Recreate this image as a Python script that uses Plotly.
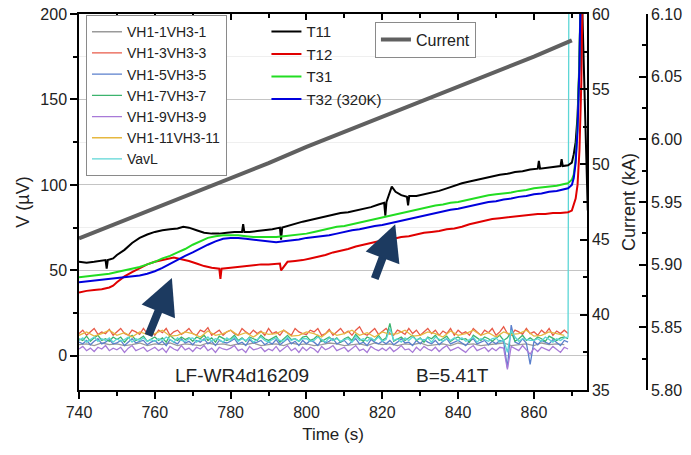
import plotly.graph_objects as go

FONT = "Liberation Sans, Arial, sans-serif"

# ---------------- data ----------------
t_fast = list(range(740, 870))          # 1 s sampling of the quench-antenna signals
t_slow = list(range(740, 870, 2))       # 2 s sampling

vh1 = [6.5, 7, 6, 7.5, 6.5, 7, 6, 6.5, 7.5, 6, 7, 6.5, 7.5, 6, 7, 6.5, 6, 7.5, 6.5, 7,
       6, 7, 6.5, 7.5, 6, 6.5, 7, 6, 7.5, 6.5, 7, 6, 6.5, 7.5, 7, 6, 6.5, 7, 6, 7.5,
       6.5, 7, 6, 7, 6.5, 7.5, 6, 6.5, 7, 6, 7.5, 6.5, 7, 6, 6.5, 7, 7.5, 6, 6.5, 7,
       6, 7.5, 6.5, 7, 6.5]
vh3 = [13, 15, 12, 14, 16, 12.5, 14, 13, 15.5, 12,
       14, 16, 13, 12, 15, 14, 12.5, 16, 13, 14.5,
       12, 15, 13.5, 16, 12, 14, 15, 12.5, 14, 16,
       13, 12, 15, 14, 16.5, 12, 13.5, 15, 12, 14,
       15, 13, 12, 16, 14, 12.5, 15, 13, 14.5, 12,
       16, 13, 14, 12, 15, 13.5, 12, 16, 14, 13,
       12.5, 15, 14, 16, 12, 13, 15.5, 12, 14, 16,
       13, 14.5, 12, 15, 17, 13, 12, 14, 16, 12.5,
       14, 16, 13, 12, 15, 14, 12.5, 16, 13, 15,
       12, 14, 16, 13, 15, 12, 14.5, 13, 16, 12,
       15, 13, 14, 12, 16, 14, 12, 15, 13.5, 16,
       12, 14, 17, 13, 12, 15, 14, 12.5, 16, 13,
       14, 12, 15, 13, 16, 12, 14.5, 13, 15, 13]
vh5 = [8, 7, 9, 6.5, 8.5, 10, 7, 8, 9.5, 7,
       7.5, 9, 6, 8, 10, 7.5, 8.5, 9, 6.5, 8,
       9, 7, 8.5, 6, 9.5, 8, 7, 10, 7.5, 8.5,
       6.5, 9, 8, 10, 7, 8.5, 6, 9, 8, 7.5,
       8.5, 10, 7, 8, 6, 9.5, 7.5, 8, 9, 6.5,
       8, 7, 9.5, 6.5, 8, 10, 7, 8.5, 6, 9,
       7, 9, 8, 6, 9.5, 7.5, 8.5, 10, 7, 8,
       9, 6.5, 8, 10, 7, 8, 6, 9.5, 8, 7,
       8.5, 7, 9, 6.5, 8, 10, 7.5, 8, 6, 9,
       7, 9.5, 8, 7, 9, 6.5, 8.5, 10, 7, 8,
       9, 7.5, 6, 8.5, 10, 7, 8, 9, 6.5, 8.5,
       7, 9, 8.5, -7, 18, 8, 7, 10, 7.5, -5,
       8.5, 6.5, 9, 8, 7, 9.5, 8, 6, 9, 8]
vh7 = [10, 9, 11.5, 8.5, 10.5, 12, 9, 10, 8.5, 11,
       9.5, 11, 8, 10.5, 12, 9, 10, 11.5, 8.5, 10,
       11, 9, 10.5, 8, 12, 10, 9, 11, 9.5, 10.5,
       8.5, 11, 10, 12, 9, 10.5, 8, 11.5, 10, 9,
       10, 12, 9, 10.5, 8.5, 11, 10, 9, 12, 10,
       9, 10.5, 11.5, 8, 10, 12, 9.5, 10, 8.5, 11,
       11.5, 9, 10, 12, 8.5, 10, 11, 9, 10.5, 8,
       10, 11, 9, 12.5, 10, 8.5, 11, 10, 9, 12,
       9, 10.5, 19, 8.5, 10, 11, 9, 10.5, 12, 9,
       10.5, 8, 11, 10, 12, 9, 10, 11.5, 8.5, 10,
       11, 9.5, 10, 8, 12, 10.5, 9, 11, 10, 8.5,
       10, 12, 9, 10.5, 14, 8.5, 10, 12, 9, 10.5,
       9, 11, 10, 8.5, 11.5, 10, 9, 10.5, 11, 10]
vh9 = [4, 5.5, 3, 4.5, 2.5, 5, 4, 6, 3, 4.5,
       3.5, 5, 2, 4.5, 6, 3, 4, 5, 2.5, 4,
       5, 3, 4.5, 2, 5.5, 4, 3, 6, 3.5, 4.5,
       2.5, 5, 4, 6, 3, 4.5, 2, 5, 4, 3.5,
       4.5, 6, 3, 4, 2, 5.5, 3.5, 4, 5, 2.5,
       4, 3, 5.5, 2.5, 4, 6, 3, 4.5, 2, 5,
       3, 5, 4, 2, 5.5, 3.5, 4.5, 6, 3, 4,
       5, 2.5, 4, 6, 3, 4, 2, 5.5, 4, 3,
       4.5, 3, 5, 2.5, 4, 6, 3.5, 4, 2, 5,
       3, 5.5, 4, 3, 5, 2.5, 4.5, 6, 3, 4,
       5, 3.5, 2, 4.5, 6, 3, 4, 5, 2.5, 4.5,
       3, 5, 4.5, -8, 5.5, 4, 3, 6, 3.5, 1,
       4.5, 2.5, 5, 4, 3, 5.5, 4, 2, 5, 4]
vh11 = [12, 14, 11.5, 13, 15, 12, 13.5, 11, 14, 12.5,
        13, 15, 11.5, 12, 14, 13, 11, 14.5, 12, 13,
        15, 12, 13.5, 11, 14, 12.5, 13, 15, 11.5, 12,
        14, 13, 11, 14.5, 12, 13, 15, 12, 13.5, 11,
        14, 12.5, 13, 15, 11.5, 12, 14, 13, 11, 14.5,
        12, 13, 15, 12, 13.5, 11, 14, 12.5, 13, 15,
        11.5, 12, 14, 13, 12]
vavl_t = t_fast + [869.3]
vavl = [9, 10.5, 8, 9.5, 11, 8.5, 10, 9, 10.5, 8,
        10, 8.5, 9.5, 11, 8, 10, 9, 10.5, 8.5, 9.5,
        8.5, 10, 9, 11, 9.5, 8, 10.5, 9, 8.5, 10,
        10.5, 8, 9.5, 9, 11, 8.5, 10, 9.5, 8, 10.5,
        9, 11, 8.5, 10, 9, 10.5, 8, 9.5, 11, 9,
        8, 9.5, 10.5, 9, 8.5, 11, 9, 10, 8.5, 10,
        10, 8.5, 9, 11, 9.5, 8, 10.5, 9, 10, 8.5,
        9.5, 10, 8, 11.5, 9, 10, 8.5, 10.5, 9, 11,
        8.5, 9.5, 16, 9, 10, 8, 10.5, 9, 11, 9.5,
        10, 9, 10.5, 8, 11, 9.5, 8.5, 10, 9, 10.5,
        9, 10.5, 8.5, 9.5, 11, 8, 10, 9.5, 8.5, 10,
        10.5, 8, 9.5, 2, 15, 11, 8.5, 10, 9.5, 9,
        9, 10, 8.5, 11, 9.5, 8, 10, 9, 10.5, 11, 300]

t11_t = [740, 742, 744, 746, 747, 747.3, 747.6, 749, 750, 752, 754, 756, 758, 760, 762, 764,
         766, 767.5, 769, 771, 773, 775, 777, 779, 781, 783, 783.3, 783.6, 785, 787, 789,
         791, 793, 793.3, 793.6, 795, 797, 799, 801, 803, 805, 807, 809, 811, 813, 815,
         817, 819, 820.5, 820.8, 821.1, 822.5, 823.5, 825, 826.5, 826.8, 827.1, 829, 831,
         833, 835, 837, 839, 841, 843, 845, 847, 849, 851, 853, 855, 857, 859, 861, 861.3,
         861.6, 863, 865, 867, 867.3, 867.6, 869, 870, 870.5, 871, 871.5, 872, 872.3,
         872.6, 874.2]
t11 = [55, 54.5, 55, 55.5, 56, 51, 56, 57, 59, 62, 66, 69, 71, 72.5, 73.5, 74,
       74.5, 75.5, 75, 73.5, 72, 71.5, 71.5, 72, 72.5, 72.5, 77, 72.5, 72.5, 73, 73.5,
       74, 75, 68, 75, 76, 77, 78.5, 79.5, 80.5, 81.5, 82.5, 83.5, 84, 85, 86,
       87, 88.5, 89.5, 82, 90, 99, 96, 94, 93, 88, 93.5, 93.5, 94.5,
       95.5, 96.5, 98, 99.5, 101, 102, 103, 104, 105, 106, 106.5, 107.5, 108, 109, 109.5, 114,
       109.5, 110, 110.5, 111, 115, 111, 111.5, 113, 118, 125, 140, 170, 210,
       215, 85]
t12_t = [740, 742, 744, 746, 748, 749, 750, 751, 752, 754, 756, 758, 760, 762, 764, 765,
         767, 769, 771, 773, 775, 777, 777.3, 777.6, 780, 782, 784, 786, 788, 790, 792,
         793, 793.3, 795, 797, 799, 801, 803, 805, 807, 809, 811, 813, 815, 817, 819,
         821, 823, 825, 827, 829, 831, 833, 835, 837, 839, 841, 843, 845, 847, 849, 851,
         853, 855, 857, 859, 861, 863, 865, 867, 869, 870, 871, 871.5, 872, 872.5, 872.8]
t12 = [37, 38, 38.5, 39, 40, 41, 43, 45, 46.5, 49, 51.5, 53.5, 55, 56, 57, 57.5,
       56.5, 55.5, 54, 52.5, 51.5, 51, 45, 51, 51.5, 52, 52.5, 53, 53.5, 53.5, 54,
       54, 50, 55, 55.5, 56, 57, 58, 59, 60.5, 61.5, 62.5, 64, 65, 66, 67,
       68, 68.5, 69.5, 70, 71, 72, 72.5, 73, 74, 74.5, 75.5, 77, 78, 79, 80, 80.5,
       81, 81.5, 82, 82.5, 83, 83, 83.5, 83.5, 84, 85, 92, 100, 120, 160, 210]
t31_t = [740, 742, 744, 746, 748, 750, 752, 754, 756, 758, 760, 762, 764, 766, 768, 770,
         772, 774, 776, 778, 780, 782, 784, 786, 788, 790, 792, 794, 796, 798, 800, 802,
         804, 806, 808, 810, 812, 814, 816, 818, 820, 822, 824, 826, 828, 830, 832, 834,
         836, 838, 840, 842, 844, 846, 848, 850, 852, 854, 856, 858, 860, 862, 864, 866,
         868, 869, 870, 870.5, 871, 871.5, 872, 872.3]
t31 = [46, 46.5, 47, 47.5, 48, 49, 50, 51, 52, 53.5, 55, 57, 58.5, 60.5, 62.5, 65,
       67, 69, 70, 70.5, 70.5, 70.5, 70, 69.5, 69.5, 69.5, 69.5, 70, 70.5, 71, 71.5, 72.5,
       73.5, 74.5, 75.5, 76, 77, 78, 79, 80, 81, 82, 83, 84, 85, 86, 87, 88,
       88.5, 89.5, 90, 91, 92, 93, 94, 94.5, 95, 95.5, 96.5, 97, 98, 98.5, 99, 99.5,
       100.5, 101, 103, 106, 115, 135, 175, 210]
t32_t = t31_t
t32 = [43, 43.5, 44, 44.5, 45, 45.5, 46, 46.5, 47, 48, 49.5, 51.5, 54, 56.5, 58.5, 60.5,
       63, 65, 67, 68.5, 69, 69, 68.5, 68, 67.5, 67, 66.5, 67, 67.5, 68, 69, 69.5,
       70, 70.5, 71.5, 72.5, 73.5, 74, 75, 76, 76.5, 77.5, 78.5, 79.5, 80.5, 81.5, 82.5, 83.5,
       84.5, 85.5, 86, 87, 88, 89, 90, 90.5, 91.5, 92, 93, 93.5, 94.5, 95, 96, 96.5,
       97.5, 98, 100, 104, 113, 132, 170, 210]

cur_t = [740, 750, 760, 770, 780, 790, 800, 810, 820, 830, 840, 850, 860, 870]
cur = [5.921, 5.933, 5.945, 5.957, 5.969, 5.981, 5.994, 6.006, 6.018, 6.030, 6.042,
       6.054, 6.066, 6.079]

# ---------------- figure ----------------
fig = go.Figure()

noise = [
    ("VH1-1VH3-1", t_slow, vh1, "#9a9a9a"),
    ("VH1-3VH3-3", t_fast, vh3, "#e85a48"),
    ("VH1-5VH3-5", t_fast, vh5, "#5a7fcc"),
    ("VH1-7VH3-7", t_fast, vh7, "#3cb46e"),
    ("VH1-9VH3-9", t_fast, vh9, "#a87ad8"),
    ("VH1-11VH3-11", t_slow, vh11, "#e6b840"),
    ("VavL", vavl_t, vavl, "#5cd6d6"),
]
for name, tt, vv, col in noise:
    fig.add_trace(go.Scatter(x=tt[:len(vv)], y=vv, mode="lines", name=name,
                             line=dict(color=col, width=1.3), legend="legend"))

for name, tt, vv, col in [("T11", t11_t, t11, "#000000"), ("T12", t12_t, t12, "#e00000"),
                          ("T31", t31_t, t31, "#22dd22"), ("T32 (320K)", t32_t, t32, "#0000dd")]:
    fig.add_trace(go.Scatter(x=tt, y=vv, mode="lines", name=name,
                             line=dict(color=col, width=2), legend="legend2"))

fig.add_trace(go.Scatter(x=cur_t, y=cur, mode="lines", name="Current", yaxis="y3",
                         line=dict(color="#606060", width=4), legend="legend3"))

# empty traces so that the secondary current axis and the top axis get drawn
fig.add_trace(go.Scatter(x=[None], y=[None], yaxis="y2", showlegend=False, hoverinfo="skip"))
fig.add_trace(go.Scatter(x=[None], y=[None], xaxis="x2", showlegend=False, hoverinfo="skip"))

axis_common = dict(showline=True, linecolor="black", linewidth=1.5, tickcolor="black",
                   tickwidth=1.5, zeroline=False, automargin=False,
                   tickfont=dict(family=FONT, size=16, color="#222"))

fig.update_layout(
    width=691, height=455, autosize=False,
    margin=dict(l=79, r=44, t=14, b=65),
    paper_bgcolor="white", plot_bgcolor="white",
    font=dict(family=FONT, color="#222"),
    xaxis=dict(domain=[0, 0.8944], range=[740, 874], tick0=740, dtick=20, ticks="outside",
               ticklen=7, showgrid=False, anchor="y",
               minor=dict(dtick=10, ticks="outside", ticklen=4, tickcolor="black"),
               title=dict(text="Time (s)", standoff=8,
                          font=dict(family=FONT, size=17, color="#222")),
               **axis_common),
    xaxis2=dict(overlaying="x", matches="x", side="top", anchor="y", ticks="inside", ticklen=6,
                showticklabels=False, showgrid=False, tick0=740, dtick=20,
                minor=dict(dtick=10, ticks="inside", ticklen=4, tickcolor="black"),
                **axis_common),
    yaxis=dict(range=[-20, 200], tick0=0, dtick=50, ticks="outside", ticklen=7,
               showgrid=True, gridcolor="#c4c4c4", gridwidth=1,
               minor=dict(dtick=25, ticks="outside", ticklen=4, tickcolor="black",
                          showgrid=True, gridcolor="#efefef"),
               title=dict(text="V (µV)", standoff=6,
                          font=dict(family=FONT, size=18, color="#222")),
               **axis_common),
    yaxis2=dict(overlaying="y", side="right", anchor="x", range=[35, 60], tick0=35, dtick=5,
                ticks="inside", ticklen=7, showgrid=False,
                minor=dict(dtick=2.5, ticks="inside", ticklen=4, tickcolor="black"),
                title=dict(text="Current (kA)", standoff=14,
                           font=dict(family=FONT, size=18, color="#222")),
                **axis_common),
    yaxis3=dict(overlaying="y", side="right", anchor="free", position=1.0,
                range=[5.80, 6.10], tick0=5.80, dtick=0.05, tickformat=".2f",
                ticks="inside", ticklen=7, showgrid=False,
                minor=dict(dtick=0.025, ticks="inside", ticklen=4, tickcolor="black"),
                **axis_common),
    legend=dict(x=0.0123, y=0.997, xanchor="left", yanchor="top", bgcolor="white",
                bordercolor="#8a8a8a", borderwidth=1, tracegroupgap=0,
                font=dict(family=FONT, size=14, color="#222")),
    legend2=dict(x=0.33, y=0.997, xanchor="left", yanchor="top", bgcolor="rgba(0,0,0,0)",
                 borderwidth=0, font=dict(family=FONT, size=15, color="#222")),
    legend3=dict(x=0.521, y=0.98, xanchor="left", yanchor="top", bgcolor="white",
                 bordercolor="#8a8a8a", borderwidth=1,
                 font=dict(family=FONT, size=16, color="#222")),
    showlegend=True,
)

fig.add_annotation(x=783, y=-11.7, xref="x", yref="y", text="LF-WR4d16209", showarrow=False,
                   font=dict(family=FONT, size=19, color="#222"))
fig.add_annotation(x=838.4, y=-11.7, xref="x", yref="y", text="B=5.41T", showarrow=False,
                   font=dict(family=FONT, size=19, color="#222"))

for (tx, ty, ax, ay) in [(764.5, 45.5, -24, 59), (823.4, 77, -21, 56)]:
    fig.add_annotation(x=tx, y=ty, xref="x", yref="y", ax=ax, ay=ay, text="",
                       showarrow=True, arrowhead=2, arrowsize=0.9, arrowwidth=8,
                       arrowcolor="#1c3a60")

fig.write_html("out.html")
